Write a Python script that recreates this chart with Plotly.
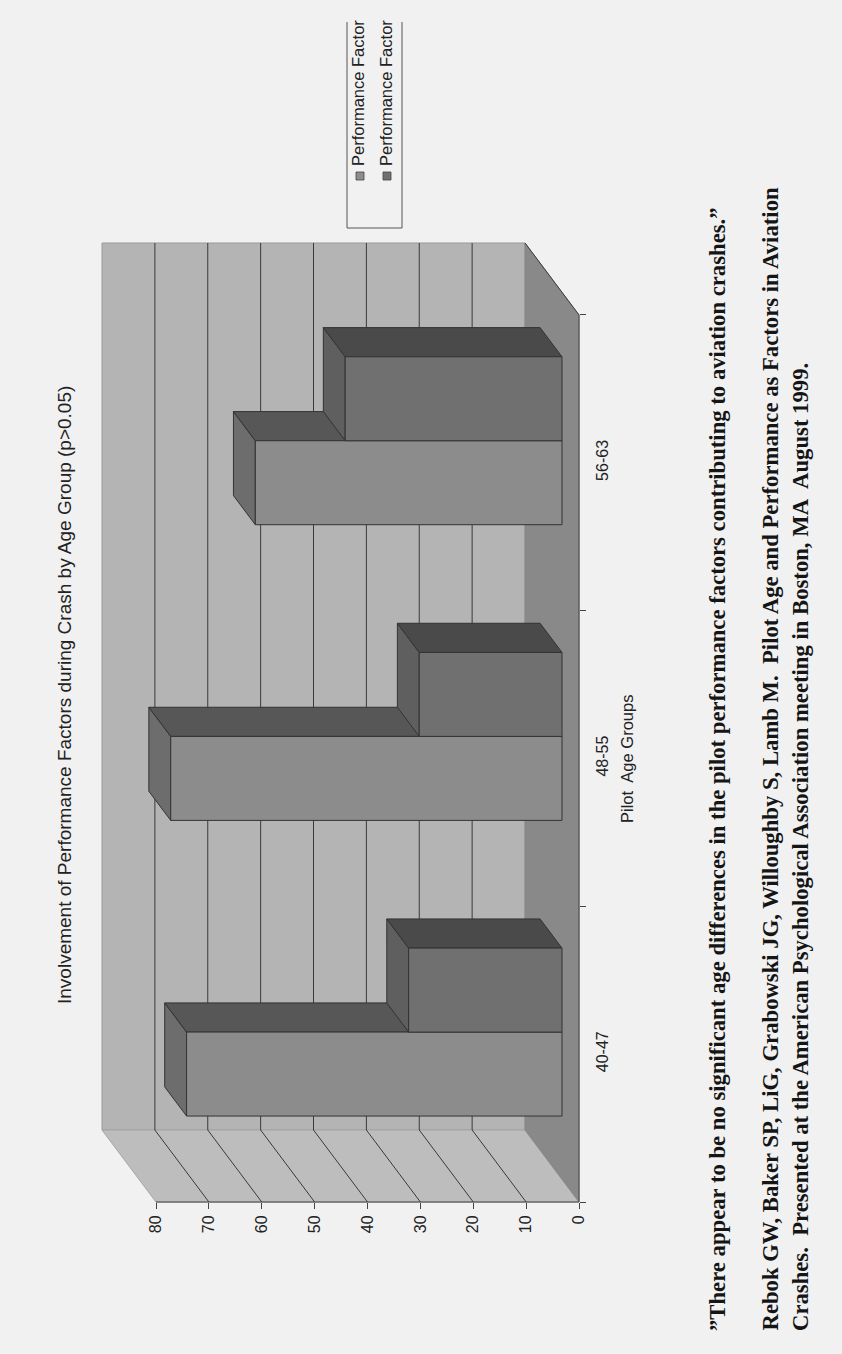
import plotly.graph_objects as go

# ---------------- data ----------------
categories = ["40-47", "48-55", "56-63"]
series_names = ["Performance Factor", "Performance Factor"]
factor_a = [71, 74, 58]
factor_b = [29, 27, 41]
value_ticks = [0, 10, 20, 30, 40, 50, 60, 70, 80]

title_text = "Involvement of Performance Factors during Crash by Age Group (p>0.05)"
x_title = "Pilot\u00a0 Age Groups"
quote = "\u201dThere appear to be no significant age differences in the pilot performance factors contributing to aviation crashes.\u201d"
cite1 = "Rebok GW, Baker SP, LiG, Grabowski JG, Willoughby S, Lamb M.\u00a0 Pilot Age and Performance as Factors in Aviation"
cite2 = "Crashes.\u00a0 Presented at the American Psychological Association meeting in Boston, MA\u00a0 August 1999."

# ---------------- geometry (page is rotated 90 deg) ----------------
W, H = 842, 1354
L, R, T, B = 80, 620, 220, 1230          # plot area in pixels
X0, PXV = 579, 5.2875                    # pixel of value 0 (front), px per value unit
Y0, PYC = 1202, 295.67                   # pixel of category 0 (front), px per category
VMAX = 80
NCAT = len(categories)
DV = 54 / PXV                            # depth shift, value units
DC = 72 / PYC                            # depth shift, category units
xr = [(X0 - L) / PXV, (X0 - R) / PXV]
yr = [(Y0 - B) / PYC, (Y0 - T) / PYC]

BAR_W, C_OFF = 0.284, 0.214
D0, D1 = 0.315, 0.72


def P(v, c, d):
    return v + d * DV, c + d * DC


def poly(pts, fill, line="#333333", width=1.0):
    xy = [P(*p) for p in pts]
    xs = [a for a, _ in xy] + [xy[0][0]]
    ys = [b for _, b in xy] + [xy[0][1]]
    return go.Scatter(x=xs, y=ys, mode="lines", fill="toself", fillcolor=fill,
                      line=dict(color=line, width=width), hoverinfo="skip",
                      showlegend=False)


def seg(pts, color="#333333", width=1.0):
    xy = [P(*p) for p in pts]
    return go.Scatter(x=[a for a, _ in xy], y=[b for _, b in xy], mode="lines",
                      line=dict(color=color, width=width), hoverinfo="skip",
                      showlegend=False)


traces = []
# walls
traces.append(poly([(0, 0, 1), (VMAX, 0, 1), (VMAX, NCAT, 1), (0, NCAT, 1)], "#b4b4b4", "#9a9a9a"))
traces.append(poly([(0, 0, 0), (VMAX, 0, 0), (VMAX, 0, 1), (0, 0, 1)], "#bdbdbd", "#a5a5a5"))
traces.append(poly([(0, 0, 0), (0, NCAT, 0), (0, NCAT, 1), (0, 0, 1)], "#898989", "#898989"))
# gridlines
for v in value_ticks:
    if 0 < v < VMAX:
        traces.append(seg([(v, 0, 0), (v, 0, 1), (v, NCAT, 1)], "#3a3a3a", 1))
# floor top edge
traces.append(seg([(0, NCAT, 1), (0, NCAT, 0)], "#3a3a3a", 1))

# bars
styles = [
    dict(front="#8c8c8c", end="#6d6d6d", side="#575757"),
    dict(front="#707070", end="#5f5f5f", side="#4a4a4a"),
]
series = [factor_a, factor_b]
for i in range(NCAT):
    for s, vals in enumerate(series):
        v = vals[i]
        c0 = i + C_OFF + s * BAR_W
        c1 = c0 + BAR_W
        st = styles[s]
        traces.append(poly([(v, c0, D0), (v, c1, D0), (v, c1, D1), (v, c0, D1)], st["end"]))
        traces.append(poly([(0, c1, D0), (v, c1, D0), (v, c1, D1), (0, c1, D1)], st["side"]))
        traces.append(poly([(0, c0, D0), (v, c0, D0), (v, c1, D0), (0, c1, D0)], st["front"]))

# front axis lines
traces.append(seg([(VMAX, 0, 0), (0, 0, 0), (0, NCAT, 0)], "#444444", 1))

fig = go.Figure(traces)


def ax(px):
    return (px - L) / (R - L)


def ay(py):
    return (B - py) / (B - T)


sans = "Liberation Sans, Arial, sans-serif"
serif = "Liberation Serif, Times New Roman, serif"
annots = [
    dict(text=title_text, x=ax(64), y=ay(695), xanchor="center", yanchor="middle",
         font=dict(family=sans, size=19, color="#222222")),
    dict(text=x_title, x=ax(627), y=ay(759), xanchor="center", yanchor="middle",
         font=dict(family=sans, size=16.5, color="#222222")),
    dict(text=quote, x=ax(717), y=ay(1333), xanchor="center", yanchor="bottom",
         font=dict(family=serif, size=22.7, color="#151515", weight="bold")),
    dict(text=cite1, x=ax(770), y=ay(1333), xanchor="center", yanchor="bottom",
         font=dict(family=serif, size=22.7, color="#151515", weight="bold")),
    dict(text=cite2, x=ax(800), y=ay(1333), xanchor="center", yanchor="bottom",
         font=dict(family=serif, size=22.7, color="#151515", weight="bold")),
    dict(text=series_names[0], x=ax(358), y=ay(168), xanchor="center", yanchor="bottom",
         font=dict(family=sans, size=16.5, color="#222222")),
    dict(text=series_names[1], x=ax(386), y=ay(168), xanchor="center", yanchor="bottom",
         font=dict(family=sans, size=16.5, color="#222222")),
]
for a in annots:
    a.update(xref="paper", yref="paper", showarrow=False, textangle=-90)

shapes = [
    # legend frame (open at the top)
    dict(type="line", x0=ax(347), x1=ax(347), y0=ay(22), y1=ay(228), line=dict(color="#555555", width=1)),
    dict(type="line", x0=ax(402), x1=ax(402), y0=ay(22), y1=ay(228), line=dict(color="#555555", width=1)),
    dict(type="line", x0=ax(347), x1=ax(402), y0=ay(228), y1=ay(228), line=dict(color="#555555", width=1)),
    dict(type="rect", x0=ax(356), x1=ax(364), y0=ay(172), y1=ay(180), fillcolor=styles[0]["front"],
         line=dict(color="#444444", width=0.8)),
    dict(type="rect", x0=ax(383), x1=ax(391), y0=ay(172), y1=ay(180), fillcolor=styles[1]["front"],
         line=dict(color="#444444", width=0.8)),
]
for s in shapes:
    s.update(xref="paper", yref="paper")

fig.update_layout(
    width=W, height=H, autosize=False,
    margin=dict(l=L, r=W - R, t=T, b=H - B, pad=0),
    paper_bgcolor="#f1f1f1", plot_bgcolor="rgba(0,0,0,0)",
    showlegend=False,
    annotations=annots, shapes=shapes,
    xaxis=dict(range=xr, anchor="free", position=ay(Y0), tickmode="array",
               tickvals=value_ticks, ticks="outside", ticklen=6, tickcolor="#444444",
               tickangle=-90, tickfont=dict(family=sans, size=16, color="#222222"),
               showgrid=False, zeroline=False, showline=False, automargin=False,
               fixedrange=True),
    yaxis=dict(range=yr, anchor="free", position=ax(X0), side="right", tickmode="array",
               tickvals=[i + 0.5 for i in range(NCAT)], ticktext=categories, ticks="",
               tickangle=-90, ticklabelstandoff=12,
               tickfont=dict(family=sans, size=16, color="#222222"),
               minor=dict(tickmode="array", tickvals=list(range(NCAT + 1)), ticks="outside",
                          ticklen=6, tickcolor="#444444", showgrid=False),
               showgrid=False, zeroline=False, showline=False, automargin=False,
               fixedrange=True),
)

fig.write_html("out.html")
